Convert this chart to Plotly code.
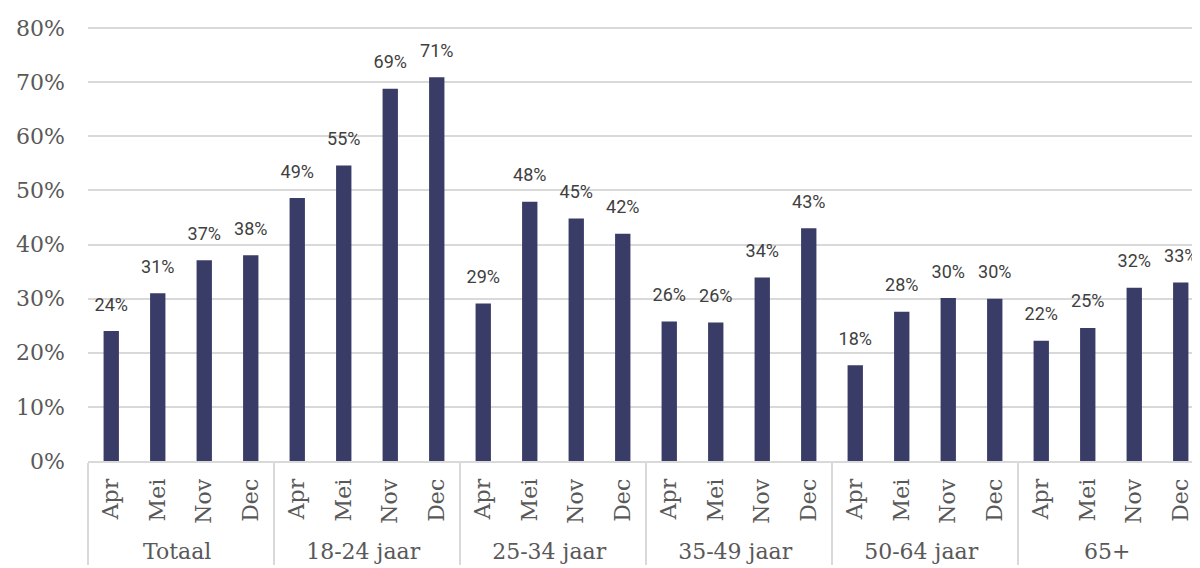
import plotly.graph_objects as go

groepen = ['Totaal', '18-24 jaar', '25-34 jaar', '35-49 jaar', '50-64 jaar', '65+']
maanden = ['Apr', 'Mei', 'Nov', 'Dec']

# aandeel per groep, per maand (Apr, Mei, Nov, Dec)
totaal = [0.240, 0.310, 0.371, 0.380]
jaar_18_24 = [0.486, 0.546, 0.688, 0.709]
jaar_25_34 = [0.291, 0.479, 0.448, 0.420]
jaar_35_49 = [0.258, 0.256, 0.339, 0.430]
jaar_50_64 = [0.177, 0.276, 0.301, 0.300]
jaar_65plus = [0.222, 0.246, 0.320, 0.330]

reeksen = [totaal, jaar_18_24, jaar_25_34, jaar_35_49, jaar_50_64, jaar_65plus]

x_groep = [g for g in groepen for _ in maanden]
x_maand = [m for _ in groepen for m in maanden]
waarden = [v for r in reeksen for v in r]

fig = go.Figure()
fig.add_trace(go.Bar(
    x=[x_groep, x_maand],
    y=waarden,
    marker=dict(color='#383c66', line=dict(width=0)),
    hoverinfo='skip',
))
# labels boven de staven (onzichtbare markers voor wat extra afstand)
fig.add_trace(go.Scatter(
    x=[x_groep, x_maand],
    y=waarden,
    mode='markers+text',
    marker=dict(size=24, color='rgba(0,0,0,0)'),
    texttemplate='%{y:.0%}',
    textposition='top center',
    textfont=dict(family='Roboto', size=18, color='#404040'),
    cliponaxis=False,
    hoverinfo='skip',
))

# de pagina heeft 8px body-marge, daarom iets kleinere marges links/boven
fig.update_layout(
    width=1200, height=568,
    margin=dict(l=80, r=4, t=19, b=115),
    plot_bgcolor='white',
    paper_bgcolor='white',
    showlegend=False,
    bargap=0.67,
    xaxis=dict(
        type='multicategory',
        range=[-0.5, len(x_maand) - 0.5],
        tickangle=-90,
        tickfont=dict(family='DejaVu Serif', size=22, color='#595959'),
        showline=True,
        linecolor='#d9d9d9',
        linewidth=2,
        showdividers=True,
        dividercolor='#d9d9d9',
        dividerwidth=2,
        ticks='',
        ticklabelstandoff=7,
        automargin=False,
    ),
    yaxis=dict(
        range=[0, 0.802],
        dtick=0.1,
        tickformat='.0%',
        showgrid=True,
        gridcolor='#d9d9d9',
        gridwidth=2,
        zeroline=False,
        tickfont=dict(family='DejaVu Serif', size=22, color='#595959'),
        ticklabelstandoff=22,
        automargin=False,
    ),
)

fig.write_html("out.html")
